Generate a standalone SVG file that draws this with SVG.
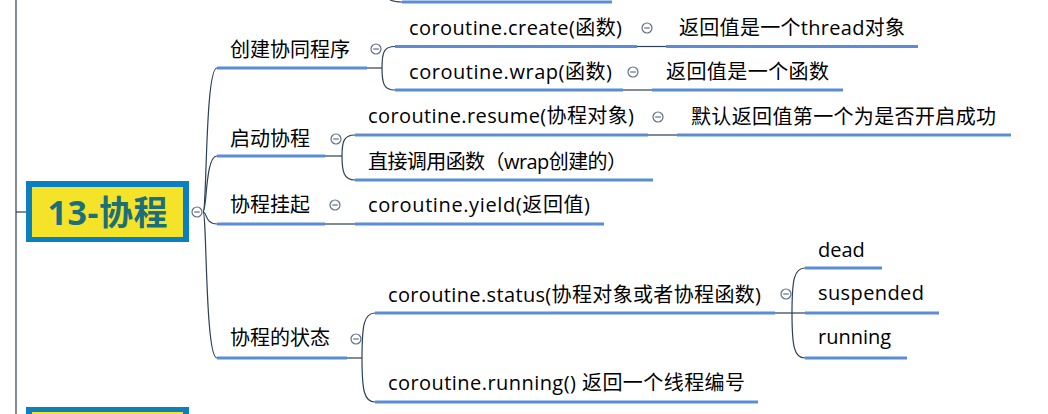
<svg xmlns="http://www.w3.org/2000/svg" width="1048" height="414" viewBox="0 0 1048 414">
<defs>
<style>
.t{font-family:"Open Sans","Noto Sans CJK SC",sans-serif;font-size:20px;fill:#000}
.u{stroke:#5b8dd6;stroke-width:3;fill:none}
.c{stroke:#2a3f58;stroke-width:1.2;fill:none}
.k{stroke:#5f6f85;stroke-width:1.2;fill:#fff}
.m{stroke:#5f6f85;stroke-width:1.2}
.root{font-family:"Open Sans","Noto Sans CJK SC",sans-serif;font-size:34px;font-weight:bold;fill:#1b6f7b}
</style>
<g id="tog">
<circle class="k" cx="0" cy="0" r="5"/>
<line class="m" x1="-2.8" y1="0" x2="2.8" y2="0"/>
</g>
</defs>
<rect width="1048" height="414" fill="#fff"/>

<g id="connectors">
<line class="c" x1="16" y1="0" x2="16" y2="414"/>
<line class="c" x1="16" y1="212" x2="26" y2="212"/>
<path class="c" d="M386,-6 C388,0 392,2 402,2"/>
<path class="c" d="M203,212 C207,212 205,68 217,68"/>
<path class="c" d="M203,212 C207,212 205,156 217,156"/>
<path class="c" d="M203,212 C207,212 205,224 217,224"/>
<path class="c" d="M203,212 C207,212 205,358 217,358"/>
<line class="c" x1="367" y1="68" x2="382" y2="68"/>
<path class="c" d="M382,68 C382,52 384,46.5 395,46.5"/>
<path class="c" d="M382,68 C382,84 384,90 395,90"/>
<line class="c" x1="637" y1="46.5" x2="666" y2="46.5"/>
<line class="c" x1="623" y1="90" x2="652" y2="90"/>
<line class="c" x1="325" y1="156" x2="342" y2="156"/>
<path class="c" d="M342,156 C342,141 344,135 355,135"/>
<path class="c" d="M342,156 C342,172 344,180 355,180"/>
<line class="c" x1="648" y1="135" x2="677" y2="135"/>
<line class="c" x1="325" y1="224" x2="355" y2="224"/>
<line class="c" x1="347" y1="358" x2="362" y2="358"/>
<path class="c" d="M362,358 C362,325 364,313 375,313"/>
<path class="c" d="M362,358 C362,390 364,402 375,402"/>
<line class="c" x1="775" y1="313" x2="805" y2="313"/>
<path class="c" d="M792,313 C792,280 794,268 805,268"/>
<path class="c" d="M792,313 C792,346 794,358 805,358"/>
</g>

<g id="prev-node">
<line class="u" x1="402" y1="2" x2="612" y2="2"/>
</g>

<g id="root">
<rect x="26" y="181" width="163" height="61" fill="#0a80c0"/>
<rect x="32" y="187" width="151" height="50" fill="#f5e32a"/>
<text class="root" x="107.5" y="225" text-anchor="middle" textLength="120">13-协程</text>
<use href="#tog" x="197" y="212"/>
</g>

<g id="next-root">
<rect x="26" y="407" width="163" height="20" fill="#0a80c0"/>
<rect x="32" y="412" width="151" height="20" fill="#f5e32a"/>
</g>

<g id="n-create-group">
<text class="t" x="230" y="57">创建协同程序</text>
<line class="u" x1="217" y1="68" x2="367" y2="68"/>
<use href="#tog" x="376" y="49"/>
</g>
<g id="n-create">
<text class="t" x="409" y="35" textLength="213">coroutine.create(函数)</text>
<line class="u" x1="395" y1="46.5" x2="637" y2="46.5"/>
<use href="#tog" x="647" y="28"/>
</g>
<g id="n-create-ret">
<text class="t" x="679" y="35" textLength="226">返回值是一个thread对象</text>
<line class="u" x1="666" y1="46.5" x2="918" y2="46.5"/>
</g>
<g id="n-wrap">
<text class="t" x="409" y="79" textLength="203">coroutine.wrap(函数)</text>
<line class="u" x1="395" y1="90" x2="623" y2="90"/>
<use href="#tog" x="633" y="72"/>
</g>
<g id="n-wrap-ret">
<text class="t" x="666" y="79" textLength="163">返回值是一个函数</text>
<line class="u" x1="652" y1="90" x2="843" y2="90"/>
</g>

<g id="n-start">
<text class="t" x="230" y="146">启动协程</text>
<line class="u" x1="217" y1="156" x2="325" y2="156"/>
<use href="#tog" x="336" y="139"/>
</g>
<g id="n-resume">
<text class="t" x="368" y="123" textLength="266">coroutine.resume(协程对象)</text>
<line class="u" x1="355" y1="135" x2="648" y2="135"/>
<use href="#tog" x="658" y="117"/>
</g>
<g id="n-resume-ret">
<text class="t" x="691" y="124" textLength="305">默认返回值第一个为是否开启成功</text>
<line class="u" x1="677" y1="135" x2="1011" y2="135"/>
</g>
<g id="n-direct">
<text class="t" x="368" y="169" textLength="259">直接调用函数（wrap创建的）</text>
<line class="u" x1="355" y1="180" x2="653" y2="180"/>
</g>

<g id="n-suspend">
<text class="t" x="230" y="212">协程挂起</text>
<line class="u" x1="217" y1="224" x2="325" y2="224"/>
<use href="#tog" x="335" y="205"/>
</g>
<g id="n-yield">
<text class="t" x="368" y="212" textLength="222">coroutine.yield(返回值)</text>
<line class="u" x1="355" y1="224" x2="604" y2="224"/>
</g>

<g id="n-state">
<text class="t" x="230" y="345">协程的状态</text>
<line class="u" x1="217" y1="358" x2="347" y2="358"/>
<use href="#tog" x="356" y="339"/>
</g>
<g id="n-status">
<text class="t" x="388" y="302" textLength="373">coroutine.status(协程对象或者协程函数)</text>
<line class="u" x1="375" y1="313" x2="775" y2="313"/>
<use href="#tog" x="786" y="294"/>
</g>
<g id="n-dead">
<text class="t" x="818" y="257">dead</text>
<line class="u" x1="805" y1="268" x2="882" y2="268"/>
</g>
<g id="n-suspended">
<text class="t" x="818" y="300" textLength="106">suspended</text>
<line class="u" x1="805" y1="313" x2="939" y2="313"/>
</g>
<g id="n-running">
<text class="t" x="818" y="344">running</text>
<line class="u" x1="805" y1="358" x2="907" y2="358"/>
</g>
<g id="n-running-fn">
<text class="t" x="388" y="390" textLength="357">coroutine.running() 返回一个线程编号</text>
<line class="u" x1="375" y1="402" x2="758" y2="402"/>
</g>
</svg>
